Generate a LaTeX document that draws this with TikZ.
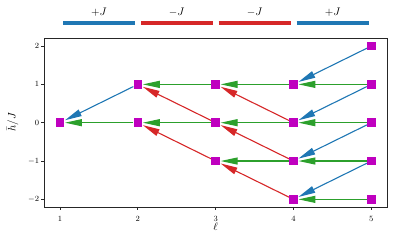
\documentclass[tikz,border=0pt]{standalone}
\usetikzlibrary{arrows.meta,backgrounds}
\definecolor{tblue}{HTML}{1F77B4}
\definecolor{tred}{HTML}{D62728}
\definecolor{tgreen}{HTML}{2CA02C}
\definecolor{mag}{HTML}{BF00BF}
\tikzset{
  site/.style={rectangle,fill=mag,minimum size=8.5pt,inner sep=0pt},
  arr/.style={line width=1.1pt,-{Triangle[length=17pt,width=7pt]},shorten >=0.5pt},
  barline/.style={line width=4pt},
  ticklab/.style={font=\fontsize{8.3}{10}\selectfont,inner sep=1pt},
  axlab/.style={font=\fontsize{10.5}{12}\selectfont,inner sep=0pt},
  frame/.style={line width=0.8pt,draw=black!85},
}
\begin{document}
\begin{tikzpicture}
\useasboundingbox (0pt,0pt) rectangle (394pt,244pt);
% top bars
\draw[barline,tblue] (63pt,220.7pt) -- (135pt,220.7pt);
\draw[barline,tred] (141pt,220.7pt) -- (212.7pt,220.7pt);
\draw[barline,tred] (218.7pt,220.7pt) -- (290.7pt,220.7pt);
\draw[barline,tblue] (296.7pt,220.7pt) -- (369pt,220.7pt);
\node[axlab] (b1) at (99pt,232pt) {$+J$};
\node[axlab] (b2) at (176.8pt,232pt) {$-J$};
\node[axlab] (b3) at (254.7pt,232pt) {$-J$};
\node[axlab] (b4) at (332.8pt,232pt) {$+J$};
% frame
\draw[frame] (44.3pt,37pt) rectangle (387pt,205.7pt);
\begin{scope}[shift={(-17.83pt,121.3pt)},x=77.83pt,y=38.33pt]
% ticks
\foreach \l in {1,...,5}{
  \draw[line width=0.8pt,black!85] (\l,-2.196) -- ++(0,-3.5pt);
  \node[ticklab] (xt\l) at ([yshift=-11.8pt]\l,-2.196) {$\l$};
}
\foreach \h/\t in {2/2,1/1,0/0,-1/{-1},-2/{-2}}{
  \draw[line width=0.8pt,black!85] (0.7984,\h) -- ++(-3.5pt,0);
  \node[ticklab,anchor=east] at ([xshift=-4pt]0.7984,\h) {$\t$};
}
% sites
\node[site] (p12) at (1,0) {};
\node[site] (p23) at (2,1) {};
\node[site] (p22) at (2,0) {};
\node[site] (p33) at (3,1) {};
\node[site] (p32) at (3,0) {};
\node[site] (p31) at (3,-1) {};
\node[site] (p43) at (4,1) {};
\node[site] (p42) at (4,0) {};
\node[site] (p41) at (4,-1) {};
\node[site] (p40) at (4,-2) {};
\node[site] (p54) at (5,2) {};
\node[site] (p53) at (5,1) {};
\node[site] (p52) at (5,0) {};
\node[site] (p51) at (5,-1) {};
\node[site] (p50) at (5,-2) {};
\begin{scope}[on background layer]
\draw[arr,tblue] (p54) -- (p43);
\draw[arr,tblue] (p53) -- (p42);
\draw[arr,tblue] (p52) -- (p41);
\draw[arr,tblue] (p51) -- (p40);
\draw[arr,tgreen] (p53) -- (p43);
\draw[arr,tgreen] (p52) -- (p42);
\draw[arr,tgreen] (p51) -- (p41);
\draw[arr,tgreen] (p50) -- (p40);
\draw[arr,tred] (p42) -- (p33);
\draw[arr,tred] (p41) -- (p32);
\draw[arr,tred] (p40) -- (p31);
\draw[arr,tgreen] (p43) -- (p33);
\draw[arr,tgreen] (p42) -- (p32);
\draw[arr,tgreen] (p41) -- (p31);
\draw[arr,tred] (p32) -- (p23);
\draw[arr,tred] (p31) -- (p22);
\draw[arr,tgreen] (p33) -- (p23);
\draw[arr,tgreen] (p32) -- (p22);
\draw[arr,tblue] (p23) -- (p12);
\draw[arr,tgreen] (p22) -- (p12);
\end{scope}
\end{scope}
% axis labels
\node[axlab] (xl) at (215.7pt,17pt) {$\ell$};
\node[axlab,rotate=90] (yl) at (12.5pt,121.7pt) {$\bar{h}/J$};
\end{tikzpicture}
\end{document}
